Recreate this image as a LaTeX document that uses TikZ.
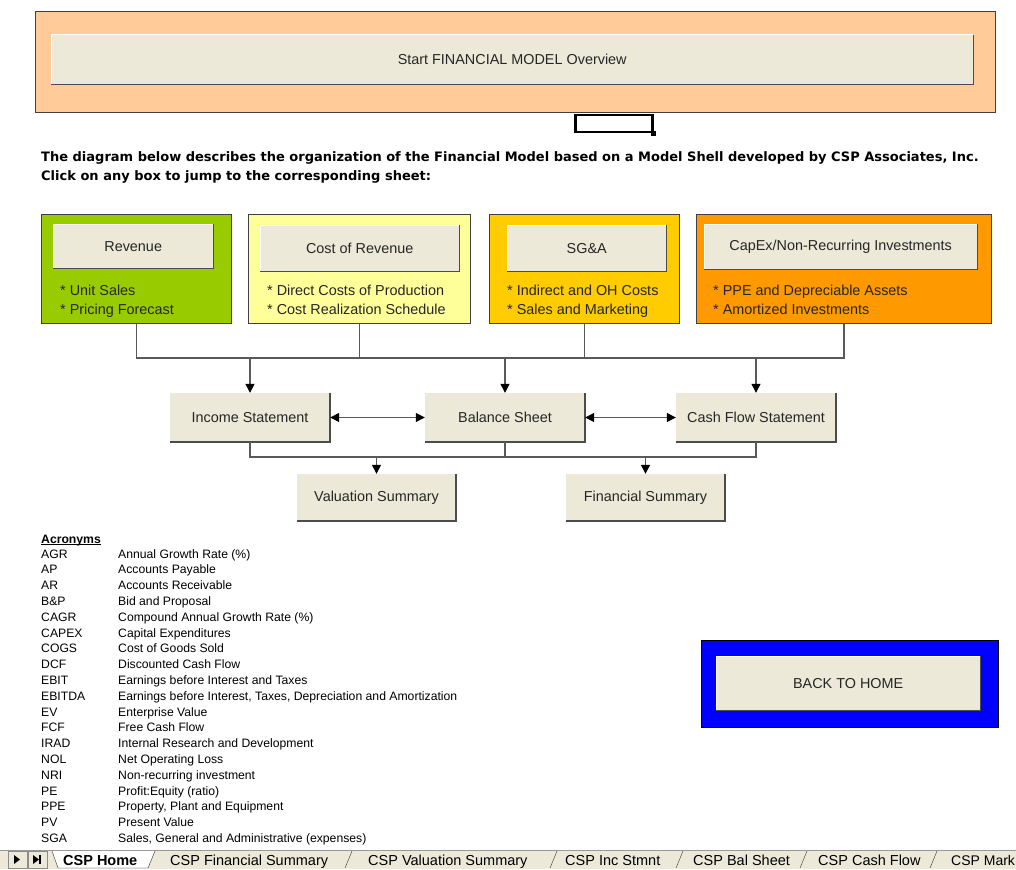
\documentclass[tikz,border=0pt]{standalone}
\usepackage{fontspec}
\setmainfont{Liberation Sans}
\newfontfamily\headfont{DejaVu Sans}
\usetikzlibrary{arrows.meta,positioning,calc}
\definecolor{btnface}{HTML}{ECE9D8}
\definecolor{peach}{HTML}{FFCC99}
\definecolor{revgreen}{HTML}{99CC00}
\definecolor{costyellow}{HTML}{FFFF99}
\definecolor{sgagold}{HTML}{FFCC00}
\definecolor{caporange}{HTML}{FF9900}
\definecolor{homeblue}{HTML}{0000FF}
\tikzset{
  panel/.style={draw=black!75,line width=1.2pt,anchor=north west,inner sep=0pt},
  btn/.style={fill=btnface,inner sep=0pt,text=black!85,font=\fontsize{14.4}{17}\selectfont},
  note/.style={anchor=base west,align=left,inner sep=0pt,text=black!85,font=\fontsize{14.4}{19}\selectfont},
  link/.style={draw=black!65,line width=1.3pt},
  tip/.style={-{Triangle[length=9pt,width=9pt,black]}},
  tips/.style={{Triangle[length=9pt,width=9pt,black]}-{Triangle[length=9pt,width=9pt,black]}},
  acr/.style={anchor=base west,inner sep=0pt,font=\fontsize{12.2}{14}\selectfont},
  tablbl/.style={anchor=base west,inner sep=0pt,font=\fontsize{14.5}{17}\selectfont}
}
\begin{document}
\begin{tikzpicture}[x=1pt,y=-1pt]
\useasboundingbox[fill=white] (0,0) rectangle (1016,869);
\node[panel,fill=peach,minimum width=960pt,minimum height=101pt] (top) at (35,11) {};
\node[btn,anchor=north west,minimum width=922pt,minimum height=49pt] (startbtn) at (51,35) {Start FINANCIAL MODEL Overview};
\node[draw,line width=2.5pt,anchor=north west,inner sep=0pt,minimum width=77pt,minimum height=17pt] (sel) at (574,114) {};
\node[fill,inner sep=0pt,minimum size=5pt] (handle) at (sel.south east) {};
\node[anchor=base west,align=left,inner sep=0pt,font=\headfont\bfseries\fontsize{13}{19}\selectfont] (intro) at (41,181)
  {The diagram below describes the organization of the Financial Model based on a Model Shell developed by CSP Associates, Inc.\\
   Click on any box to jump to the corresponding sheet:};
\node[panel,fill=revgreen,minimum width=190pt,minimum height=109pt] (rev) at (41,214) {};
\node[panel,fill=costyellow,minimum width=222pt,minimum height=109pt] (cor) at (248,214) {};
\node[panel,fill=sgagold,minimum width=190pt,minimum height=109pt] (sga) at (489,214) {};
\node[panel,fill=caporange,minimum width=295pt,minimum height=109pt] (capex) at (696,214) {};
\node[btn,anchor=north west,minimum width=160pt,minimum height=44pt] (revbtn) at (53,224) {Revenue};
\node[btn,anchor=north west,minimum width=199pt,minimum height=46pt] (corbtn) at (260,225) {Cost of Revenue};
\node[btn,anchor=north west,minimum width=159pt,minimum height=46pt] (sgabtn) at (507,225) {SG\&A};
\node[btn,anchor=north west,minimum width=273pt,minimum height=45pt] (capbtn) at (704,224) {CapEx/Non-Recurring Investments};
\node[note] (revtxt) at (60,314) {* Unit Sales\\* Pricing Forecast};
\node[note] (cortxt) at (267,314) {* Direct Costs of Production\\* Cost Realization Schedule};
\node[note] (sgatxt) at (507,314) {* Indirect and OH Costs\\* Sales and Marketing};
\node[note] (captxt) at (713,314) {* PPE and Depreciable Assets\\* Amortized Investments};
\node[btn,minimum width=160pt,minimum height=49pt] (inc) at (250,417.5) {Income Statement};
\node[btn,minimum width=160pt,minimum height=49pt] (bs) at (505,417.5) {Balance Sheet};
\node[btn,minimum width=160pt,minimum height=49pt] (cf) at (756,417.5) {Cash Flow Statement};
\node[btn,minimum width=159pt,minimum height=47pt] (val) at (376.5,497.5) {Valuation Summary};
\node[btn,minimum width=159pt,minimum height=47pt] (fin) at (645.5,497.5) {Financial Summary};
\node[panel,draw=black,fill=homeblue,minimum width=297pt,minimum height=87pt] (homebox) at (701,640) {};
\node[btn,anchor=north west,minimum width=264pt,minimum height=54pt] (home) at (716,656) {BACK TO HOME};
\foreach \b in {startbtn,revbtn,corbtn,sgabtn,capbtn,inc,bs,cf,val,fin,home}{
  \draw[white,line width=1pt] (\b.south west) |- (\b.north east);
  \draw[black!70,line width=1.5pt] (\b.south west) -| (\b.north east);
}
\coordinate (bus) at (0,358);
\coordinate (bus2) at (0,457);
\draw[link] (rev.south) |- (capex.south|-bus) -- (capex.south);
\draw[link] (cor.south) -- (cor.south|-bus);
\draw[link] (sga.south) -- (sga.south|-bus);
\draw[link,tip] (inc.north|-bus) -- (inc.north);
\draw[link,tip] (bs.north|-bus) -- (bs.north);
\draw[link,tip] (cf.north|-bus) -- (cf.north);
\draw[link,tips] (inc) -- (bs);
\draw[link,tips] (bs) -- (cf);
\draw[link] (inc.south) |- (cf.south|-bus2) -- (cf.south);
\draw[link] (bs.south) -- (bs.south|-bus2);
\draw[link,tip] (val.north|-bus2) -- (val.north);
\draw[link,tip] (fin.north|-bus2) -- (fin.north);
\node[acr,font=\bfseries\fontsize{12.2}{14}\selectfont] (acrhead) at (41,543) {Acronyms};
\draw ($(acrhead.base west)+(0,1.5)$) -- ($(acrhead.base east)+(0,1.5)$);
\foreach \a/\d [count=\i] in {AGR/{Annual Growth Rate (\%)},AP/{Accounts Payable},AR/{Accounts Receivable},
  B\&P/{Bid and Proposal},CAGR/{Compound Annual Growth Rate (\%)},CAPEX/{Capital Expenditures},
  COGS/{Cost of Goods Sold},DCF/{Discounted Cash Flow},EBIT/{Earnings before Interest and Taxes},
  EBITDA/{Earnings before Interest, Taxes, Depreciation and Amortization},EV/{Enterprise Value},
  FCF/{Free Cash Flow},IRAD/{Internal Research and Development},NOL/{Net Operating Loss},
  NRI/{Non-recurring investment},PE/{Profit:Equity (ratio)},PPE/{Property, Plant and Equipment},
  PV/{Present Value},SGA/{Sales, General and Administrative (expenses)}}{
  \node[acr] (acr\i) at (41,{542.2+15.8*\i}) {\a};
  \node[acr] (desc\i) at (118,{542.2+15.8*\i}) {\d};
}
\fill[btnface] (0,850) rectangle (1016,869);
\draw[black!40] (0,850) -- (1016,850);
\draw[black!45] (8,851) rectangle (27,868) (28,851) rectangle (47,868);
\fill (14,855) -- (20,859.5) -- (14,864) -- cycle;
\fill (33,855) -- (39,859.5) -- (33,864) -- cycle;
\draw[line width=1.4pt] (40,855) -- (40,864);
\filldraw[fill=white,draw=black!80] (52,851) -- (58,868) -- (148,868) -- (155,851);
\foreach \t in {345,550,676,800,930}
  \draw[black!80] (\t,868) -- (\t+7,851);
\node[tablbl,font=\bfseries\fontsize{14.5}{17}\selectfont] (tab1) at (63,865.5) {CSP Home};
\node[tablbl] (tab2) at (170,865.5) {CSP Financial Summary};
\node[tablbl] (tab3) at (368,865.5) {CSP Valuation Summary};
\node[tablbl] (tab4) at (565,865.5) {CSP Inc Stmnt};
\node[tablbl] (tab5) at (693,865.5) {CSP Bal Sheet};
\node[tablbl] (tab6) at (818,865.5) {CSP Cash Flow};
\node[tablbl,font=\fontsize{14}{17}\selectfont] (tab7) at (951,865.5) {CSP Mark};
\end{tikzpicture}
\end{document}
